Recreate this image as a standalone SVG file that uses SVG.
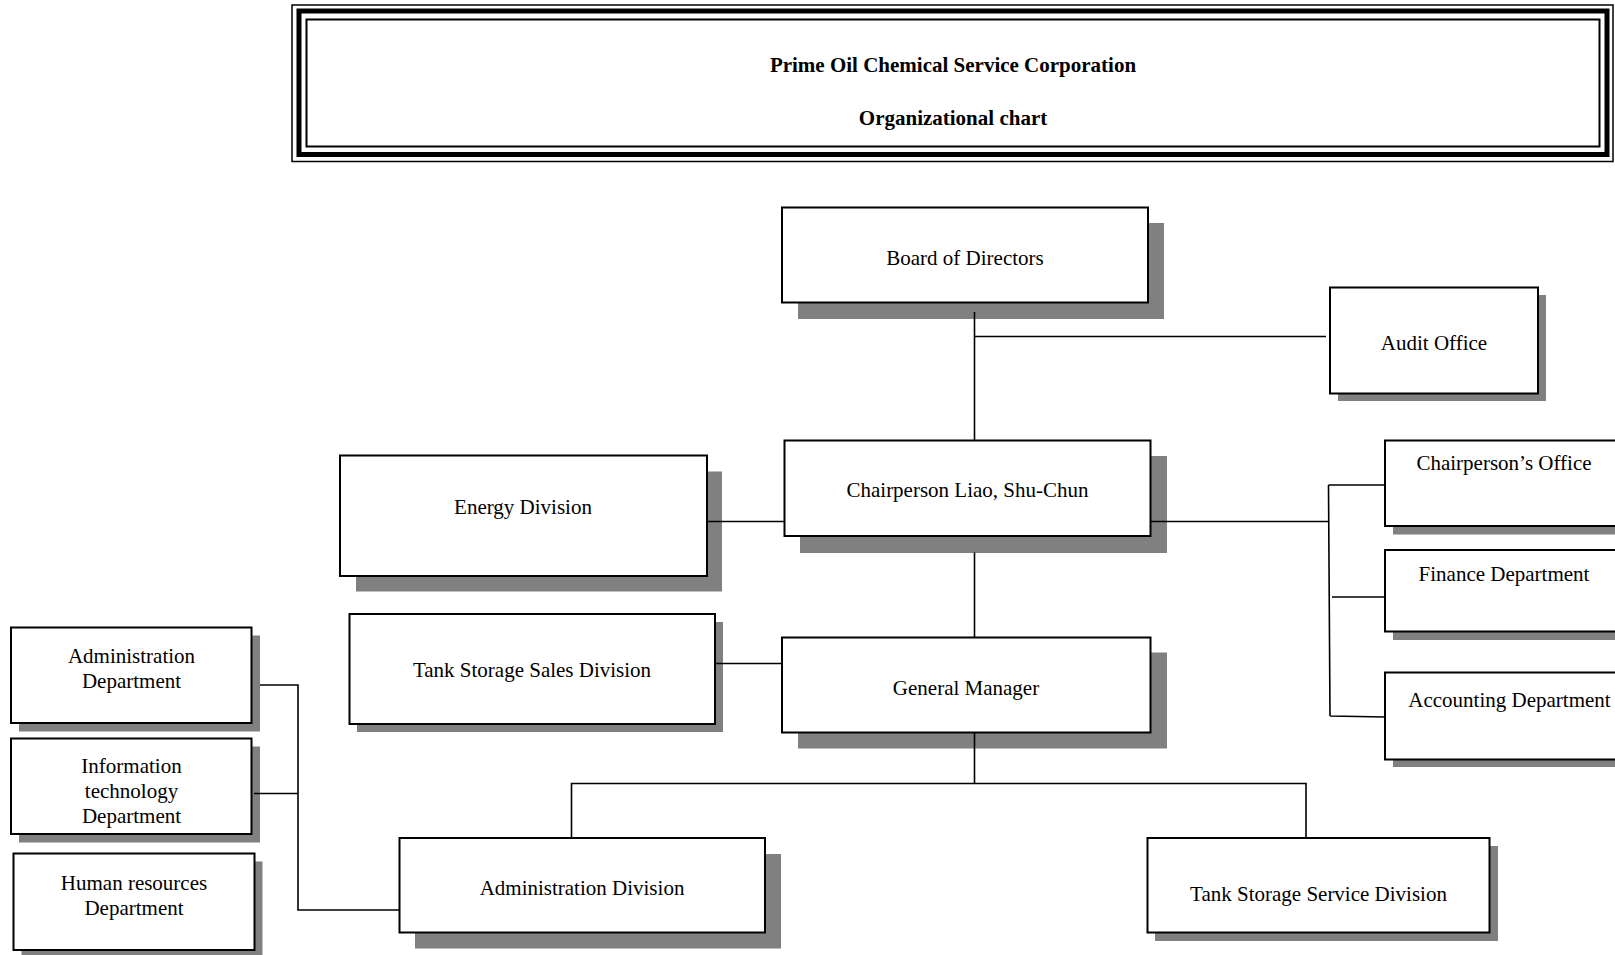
<svg xmlns="http://www.w3.org/2000/svg" width="1615" height="955" viewBox="0 0 1615 955">
<style>
.box{fill:#fff;stroke:#000;stroke-width:2}
.sh{fill:#808080}
.t{font-family:"Liberation Serif","Times New Roman",serif;font-size:21px;fill:#000;text-anchor:middle}
.tb{font-family:"Liberation Serif","Times New Roman",serif;font-size:21px;font-weight:bold;fill:#000;text-anchor:middle}
.c{fill:none;stroke:#000;stroke-width:1.6}
</style>
<rect width="1615" height="955" fill="#fff"/>
<g id="title">
<rect x="292" y="5" width="1321" height="156.5" fill="#fff" stroke="#000" stroke-width="1.5"/>
<rect x="299" y="11" width="1308" height="143.5" fill="none" stroke="#000" stroke-width="5"/>
<rect x="306.5" y="19.5" width="1293" height="127" fill="none" stroke="#000" stroke-width="2"/>
<text class="tb" x="953" y="72">Prime Oil Chemical Service Corporation</text>
<text class="tb" x="953" y="125">Organizational chart</text>
</g>
<g id="board"><rect class="sh" x="798" y="223" width="366" height="96"/><rect class="box" x="782" y="207.5" width="366" height="95"/><text class="t" x="965" y="265">Board of Directors</text></g>
<g id="audit"><rect class="sh" x="1338" y="295" width="208" height="106"/><rect class="box" x="1330" y="287.5" width="208" height="106"/><text class="t" x="1434" y="350">Audit Office</text></g>
<g id="chair"><rect class="sh" x="800" y="456" width="367" height="97"/><rect class="box" x="784.5" y="440.5" width="366" height="95.5"/><text class="t" x="967.5" y="497">Chairperson Liao, Shu-Chun</text></g>
<g id="energy"><rect class="sh" x="356" y="471.5" width="366" height="120"/><rect class="box" x="340" y="455.5" width="367" height="120.5"/><text class="t" x="523" y="514">Energy Division</text></g>
<g id="chairoffice"><rect class="sh" x="1393" y="448.5" width="240" height="86"/><rect class="box" x="1385" y="440.5" width="240" height="85.5"/><text class="t" x="1504" y="470">Chairperson’s Office</text></g>
<g id="finance"><rect class="sh" x="1393" y="558" width="240" height="82"/><rect class="box" x="1385" y="550" width="240" height="81.5"/><text class="t" x="1504" y="581">Finance Department</text></g>
<g id="accounting"><rect class="sh" x="1393" y="680" width="240" height="87"/><rect class="box" x="1385" y="672.5" width="240" height="87"/><text class="t" x="1509.5" y="707">Accounting Department</text></g>
<g id="tanksales"><rect class="sh" x="357" y="622" width="366" height="110"/><rect class="box" x="349.5" y="614" width="365.5" height="110"/><text class="t" x="532" y="677">Tank Storage Sales Division</text></g>
<g id="gm"><rect class="sh" x="798" y="652.5" width="369" height="96"/><rect class="box" x="782" y="637.5" width="368.5" height="95"/><text class="t" x="966" y="695">General Manager</text></g>
<g id="admindiv"><rect class="sh" x="415" y="854" width="366" height="94.5"/><rect class="box" x="399.5" y="838" width="365.5" height="94.5"/><text class="t" x="582" y="895">Administration Division</text></g>
<g id="tankservice"><rect class="sh" x="1155" y="846" width="343" height="95"/><rect class="box" x="1147.5" y="838" width="342" height="94.5"/><text class="t" x="1318.5" y="901">Tank Storage Service Division</text></g>
<g id="admindept"><rect class="sh" x="19" y="635.5" width="241" height="96"/><rect class="box" x="11" y="627.5" width="240.5" height="95.5"/><text class="t" x="131.5" y="663">Administration</text><text class="t" x="131.5" y="688">Department</text></g>
<g id="itdept"><rect class="sh" x="19" y="746.5" width="241" height="96"/><rect class="box" x="11" y="738.5" width="240.5" height="95.5"/><text class="t" x="131.5" y="773">Information</text><text class="t" x="131.5" y="798">technology</text><text class="t" x="131.5" y="823">Department</text></g>
<g id="hrdept"><rect class="sh" x="21.5" y="861.5" width="241" height="97"/><rect class="box" x="13.5" y="853.5" width="241" height="96.5"/><text class="t" x="134" y="890">Human resources</text><text class="t" x="134" y="915">Department</text></g>
<g id="connectors">
<path class="c" d="M974.5,312 V440.5 M974.5,336.5 H1326"/>
<path class="c" d="M707,521.5 H784.5"/>
<path class="c" d="M1150.5,521.5 H1328.5"/>
<path class="c" d="M1328.5,485 L1330,716 M1328.5,485 H1385 M1332,597 H1385 M1330,716 L1385,717"/>
<path class="c" d="M974.5,552.5 V637.5"/>
<path class="c" d="M715,663.5 H782"/>
<path class="c" d="M974.5,732.5 V783.5 M571.5,838 V783.5 H1306 V838"/>
<path class="c" d="M260,685 H298 V910 H399.5 M254,793.5 H298"/>
</g>
</svg>
